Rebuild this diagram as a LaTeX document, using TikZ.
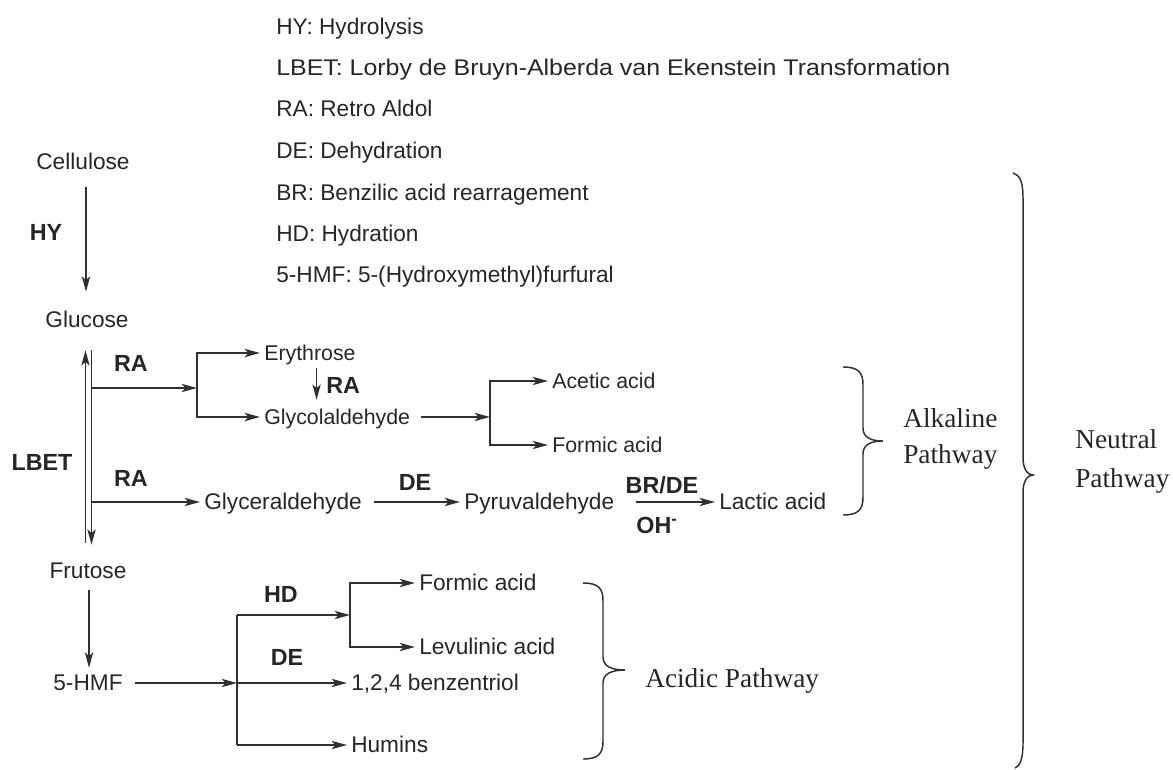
\documentclass[tikz,border=0pt]{standalone}
\usepackage{fontspec}
\setmainfont{Liberation Sans}
\newfontfamily\seriffam{Liberation Serif}
\usetikzlibrary{arrows.meta}
\definecolor{ink}{HTML}{262626}
\definecolor{wire}{HTML}{303030}
\begin{document}
\begin{tikzpicture}[x=0.75pt,y=-0.75pt,
  every node/.style={inner sep=0pt, text=ink},
  chem/.style={font=\fontsize{17}{20}\selectfont, text height=13.6pt, text depth=1.7pt, inner xsep=3pt},
  chems/.style={font=\fontsize{16}{19}\selectfont, text height=12.8pt, text depth=1.6pt, inner xsep=3pt},
  abbr/.style={font=\fontsize{17.5}{20}\selectfont\bfseries, anchor=base},
  legend/.style={font=\fontsize{17}{20}\selectfont, anchor=base west},
  pathway/.style={font=\seriffam\fontsize{20.5}{24}\selectfont, anchor=base west},
  conn/.style={draw=wire, line width=1.1pt},
  arr/.style={conn, -{Stealth[length=11.5pt,width=6.2pt,inset=2.8pt]}},
  brace/.style={draw=wire, line width=1.1pt}
]
\useasboundingbox (0,0) rectangle (1173,770);

% legend
\node[legend] (lg1) at (276,35)  {HY: Hydrolysis};
\node[legend] (lg2) at (276,76)  {\scalebox{1.1}[1]{LBET: Lorby de Bruyn-Alberda van Ekenstein Transformation}};
\node[legend] (lg3) at (276,117) {RA: Retro Aldol};
\node[legend] (lg4) at (276,159) {DE: Dehydration};
\node[legend] (lg5) at (276,200) {BR: Benzilic acid rearragement};
\node[legend] (lg6) at (276,241) {HD: Hydration};
\node[legend] (lg7) at (276,282) {5-HMF: 5-(Hydroxymethyl)furfural};

% main column
\node[chem] (cell) at (83,162) {Cellulose};
\node[chem] (gluc) at (87,320) {Glucose};
\node[chem] (frut) at (88,571) {Frutose};
\node[chem] (hmf)  at (88,683) {5-HMF};

% alkaline products
\node[chems, anchor=west] (ery)   at (260,353) {Erythrose};
\node[chems, anchor=west] (gly)   at (260,417) {Glycolaldehyde};
\node[chem, anchor=west]  (glyc)  at (200,502) {Glyceraldehyde};
\node[chem, anchor=west]  (pyr)   at (460,502) {Pyruvaldehyde};
\node[chem, anchor=west]  (lac)   at (715,502) {Lactic acid};
\node[chems, anchor=west] (acet)  at (548,381) {Acetic acid};
\node[chems, anchor=west] (form1) at (548,445) {Formic acid};

% acidic products
\node[chem, anchor=west] (form2) at (415,583) {Formic acid};
\node[chem, anchor=west] (levu)  at (415,647) {Levulinic acid};
\node[chem, anchor=west] (benz)  at (347,683) {1,2,4 benzentriol};
\node[chem, anchor=west] (hum)   at (347,745) {Humins};

% reaction labels
\node[abbr] (lHY)   at (46,240)  {HY};
\node[abbr] (lRA1)  at (131,371) {RA};
\node[abbr, anchor=base west] (lRA2) at (326,393) {RA};
\node[abbr] (lLBET) at (42,470)  {LBET};
\node[abbr] (lRA3)  at (131,486) {RA};
\node[abbr] (lDE1)  at (415,490) {DE};
\node[abbr] (lBR)   at (662,493) {BR/DE};
\node[abbr] (lOH)   at (657,533) {OH\textsuperscript{-}};
\node[abbr] (lHD)   at (281,602) {HD};
\node[abbr] (lDE2)  at (287,665) {DE};

% pathway names
\node[pathway] (alk1) at (903,427)  {Alkaline};
\node[pathway] (alk2) at (903,463)  {Pathway};
\node[pathway] (neu1) at (1075,448) {Neutral};
\node[pathway] (neu2) at (1075,487) {Pathway};
\node[pathway] (acid) at (645,687)  {Acidic Pathway};

% junctions
\coordinate (ra1) at (91.5,388);
\coordinate (br1) at (197,388);
\coordinate (ra2) at (91.5,502);
\coordinate (br2) at (490,417);
\coordinate (j5)  at (237,683);
\coordinate (jt)  at (237,615);
\coordinate (jb)  at (237,745);
\coordinate (br3) at (350,615);

% HY
\draw[arr, shorten <=11.1pt, shorten >=13.4pt] ([xshift=2.25pt]cell.south) -- ([xshift=2.25pt]cell.south |- gluc.north);
% LBET double arrow
\draw[arr, shorten <=13.4pt, shorten >=14.9pt] ([xshift=-1.9pt]frut.north) -- ([xshift=-1.9pt]frut.north |- gluc.south);
\draw[arr, shorten <=14.9pt, shorten >=11.9pt] ([xshift=3.4pt]gluc.south) -- ([xshift=3.4pt]gluc.south |- frut.north);
% RA to C4/C2
\draw[arr] (ra1) -- (br1);
\draw[arr] (br1) |- (ery.west);
\draw[arr] (br1) |- (gly.west);
\draw[arr, shorten <=4pt, shorten >=5.5pt] ([xshift=5pt]ery.south) -- ([xshift=5pt]ery.south |- gly.north);
\draw[arr, shorten <=5pt] (gly.east) -- (br2);
\draw[arr] (br2) |- (acet.west);
\draw[arr] (br2) |- (form1.west);
% RA to C3
\draw[arr] (ra2) -- (glyc.west);
\draw[arr, shorten <=6pt] (glyc.east) -- (pyr.west);
\draw[arr, shorten <=13.5pt] (pyr.east) -- (lac.west);
% acidic
\draw[arr, shorten <=6.6pt, shorten >=3.6pt] ([xshift=0.75pt]frut.south) -- ([xshift=0.75pt]hmf.north);
\draw[arr, shorten <=6.4pt] (hmf.east) -- (j5);
\draw[conn] (jt) -- (jb);
\draw[arr] (jt) -- (br3);
\draw[arr] (br3) |- (form2.west);
\draw[arr] (br3) |- (levu.west);
\draw[arr] (j5) -- (benz.west);
\draw[arr] (jb) -- (hum.west);

% braces
\draw[brace] (843,367) .. controls (858,367) and (863,372) .. (863,385) -- (863,428)
  .. controls (863,437) and (870,441) .. (883,441)
  .. controls (870,441) and (863,445) .. (863,454) -- (863,497)
  .. controls (863,510) and (858,515) .. (843,515);
\draw[brace] (583,583) .. controls (598,583) and (603,588) .. (603,601) -- (603,657)
  .. controls (603,666) and (611,670) .. (625,670)
  .. controls (611,670) and (603,674) .. (603,683) -- (603,741)
  .. controls (603,754) and (598,759) .. (583,759);
\draw[brace] (1013,173) .. controls (1020,175) and (1023,182) .. (1023,198) -- (1023,458)
  .. controls (1023,468) and (1027,475) .. (1033,475)
  .. controls (1027,475) and (1023,482) .. (1023,492) -- (1023,743)
  .. controls (1023,759) and (1020,766) .. (1015,768);
\end{tikzpicture}
\end{document}
